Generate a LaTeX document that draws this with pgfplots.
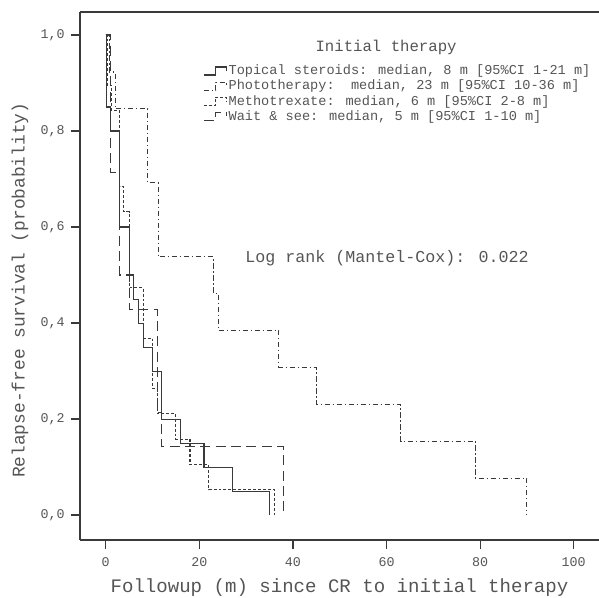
\documentclass[border=0pt]{standalone}
\usepackage{pgfplots}
\pgfplotsset{compat=1.18}
\usepackage{fontspec}
\setmainfont{Liberation Mono}
\definecolor{ln}{HTML}{3A3A3A}
\definecolor{tx}{HTML}{555555}

\begin{document}
\begin{tikzpicture}
\begin{axis}[
    scale only axis,
    width=389.25pt, height=396pt,
    xmin=-5.5, xmax=105.4,
    ymin=-0.052, ymax=1.048,
    axis x line*=box, axis y line*=left,
    axis line style={ln, line width=0.9pt},
    xtick={0,20,40,60,80,100},
    ytick={0,0.2,0.4,0.6,0.8,1},
    xtick pos=bottom, ytick pos=left,
    tick align=outside, major tick length=7pt,
    tick style={ln, line width=0.9pt},
    /pgf/number format/assume math mode=true,
    yticklabel style={/pgf/number format/use comma, /pgf/number format/fixed,
        /pgf/number format/fixed zerofill, /pgf/number format/precision=1, xshift=-1pt},
    ticklabel style={font=\fontsize{10}{12}\selectfont, text=tx},
    xticklabel style={yshift=-3pt},
    xlabel={Followup (m) since CR to initial therapy},
    ylabel={Relapse-free survival (probability)},
    xlabel style={at={(rel axis cs:0.5,-0.0909)}, anchor=center, font=\fontsize{14.3}{16}\selectfont, text=tx},
    ylabel style={at={(rel axis cs:-0.1156,0.473)}, anchor=center, font=\fontsize{13.4}{16}\selectfont, text=tx},
    legend image code/.code={\draw[#1] (0pt,-3pt) -- (9pt,-3pt) -- (9pt,3pt) -- (17pt,3pt) -- (17pt,0pt);},
    legend style={at={(rel axis cs:0.237,0.903)}, anchor=north west, draw=none, fill=none,
        font=\fontsize{10.2}{12}\selectfont, text=tx, inner sep=0pt, row sep=0pt,
        nodes={inner sep=1.2pt}},
    legend cell align=left,
]
\addplot[const plot, ln, line width=0.8pt] coordinates {
    (0,1) (0.1,0.85) (1,0.8) (3,0.6) (5,0.5) (6,0.45) (7,0.4) (8,0.35)
    (10,0.3) (12,0.2) (16,0.15) (21,0.1) (27,0.05) (35,0)
};
\addlegendentry{Topical steroids: median, 8 m [95\%CI 1-21 m]}
\addplot[const plot, ln, line width=0.8pt, dash pattern=on 4pt off 2pt on 1pt off 2pt] coordinates {
    (0,1) (0.8,0.923) (2,0.846) (9,0.692) (11.2,0.538) (23,0.462) (24,0.385)
    (37,0.308) (45,0.231) (63,0.154) (79,0.077) (90,0)
};
\addlegendentry{Phototherapy:\ \ median, 23 m [95\%CI 10-36 m]}
\addplot[const plot, ln, line width=0.8pt, dash pattern=on 2.2pt off 1.5pt] coordinates {
    (0,1) (0.3,0.895) (1.3,0.842) (3,0.684) (3.8,0.632) (5,0.474) (8,0.368)
    (10,0.263) (11,0.211) (15,0.158) (18,0.105) (22,0.053) (36,0)
};
\addlegendentry{Methotrexate: median, 6 m [95\%CI 2-8 m]}
\addplot[const plot, ln, line width=0.8pt, dash pattern=on 7.5pt off 4pt] coordinates {
    (0,1) (1,0.714) (3,0.5) (5,0.429) (11,0.214) (12,0.143) (38,0)
};
\addlegendentry{Wait \& see: median, 5 m [95\%CI 1-10 m]}
\node[text=tx, font=\fontsize{11.75}{14}\selectfont] at (axis cs:59.9,0.975) {Initial therapy};
\node[text=tx, font=\fontsize{12.5}{15}\selectfont] at (axis cs:60.1,0.535) {Log rank (Mantel-Cox): 0.022};
\end{axis}
\pgfresetboundingbox
\path ([xshift=-60pt,yshift=-43.5pt]current axis.south west) rectangle ([yshift=9pt]current axis.north east);
\end{tikzpicture}
\end{document}
